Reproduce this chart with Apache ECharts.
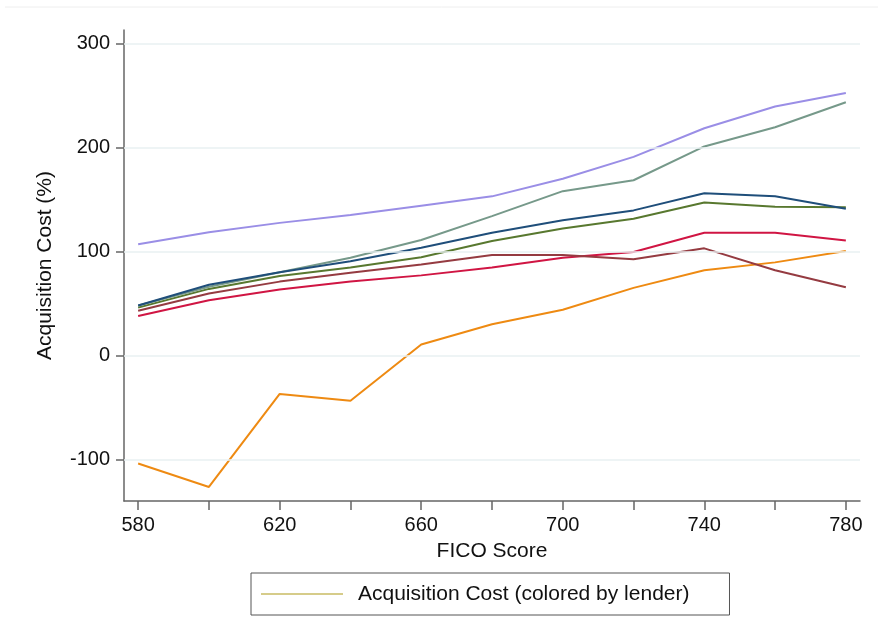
<!DOCTYPE html>
<html>
<head>
<meta charset="utf-8">
<script src="https://cdn.jsdelivr.net/npm/echarts@6/dist/echarts.min.js"></script>
<style>
html,body{margin:0;padding:0;background:#fff;}
#chart{width:878px;height:641px;}
</style>
</head>
<body>
<div id="chart"></div>
<script>
const fico = [580, 600, 620, 640, 660, 680, 700, 720, 740, 760, 780];
const xTickValues = [580, 600, 620, 640, 660, 680, 700, 720, 740, 760, 780];
const xLabelValues = [580, 620, 660, 700, 740, 780];
const yTickValues = [-100, 0, 100, 200, 300];

const lenderLavender = [107, 118.5, 127.5, 135, 144, 153, 170, 191, 218.5, 239.5, 252.5];
const lenderGrayGreen = [48, 66, 80, 94, 111, 134, 158, 168.5, 201, 219.5, 243.5];
const lenderNavy = [48, 68, 80, 90.5, 103.5, 118, 130, 139.5, 156, 153, 141];
const lenderGreen = [46, 64, 76.5, 84.5, 94.5, 110, 122, 131.5, 147, 143, 142.5];
const lenderMaroon = [43, 59.5, 71, 79.5, 87.5, 96.5, 96.5, 92.5, 103, 82, 65.5];
const lenderCrimson = [38, 53, 63.5, 71, 77, 84.5, 94, 99.5, 118, 118, 110.5];
const lenderOrange = [-104, -126.5, -37, -43.5, 10.5, 30, 44, 65, 82, 89.5, 100.5];

const lenderSeries = [
  {name: 'Lender A', values: lenderOrange, color: '#ee8a12'},
  {name: 'Lender B', values: lenderCrimson, color: '#d01543'},
  {name: 'Lender C', values: lenderMaroon, color: '#953b41'},
  {name: 'Lender D', values: lenderGreen, color: '#58782f'},
  {name: 'Lender E', values: lenderGrayGreen, color: '#76998a'},
  {name: 'Lender F', values: lenderNavy, color: '#1f4e7a'},
  {name: 'Lender G', values: lenderLavender, color: '#9a8ee6'}
];
const legendName = 'Acquisition Cost (colored by lender)';

const chart = echarts.init(document.getElementById('chart'), null, {renderer: 'canvas'});
const font = "'Liberation Sans', Arial, sans-serif";

const series = lenderSeries.map(s => ({
  name: s.name,
  type: 'line',
  data: fico.map((f, i) => [f, s.values[i]]),
  symbol: 'none',
  lineStyle: {color: s.color, width: 2},
  itemStyle: {color: s.color},
  animation: false,
  z: 3
}));
series.push({
  name: legendName,
  type: 'line',
  data: [],
  symbol: 'none',
  lineStyle: {color: '#d6cc8a', width: 2},
  itemStyle: {color: '#d6cc8a'}
});

chart.setOption({
  animation: false,
  backgroundColor: '#fff',
  textStyle: {fontFamily: font},
  grid: {left: 124, right: 18, top: 30, bottom: 140, containLabel: false},
  legend: {
    data: [legendName],
    left: 251,
    top: 573,
    icon: 'rect',
    itemWidth: 82,
    itemHeight: 2,
    padding: [10, 40, 10, 10],
    borderColor: '#555',
    borderWidth: 1,
    selectedMode: false,
    textStyle: {fontSize: 21, color: '#111', fontFamily: font, padding: [0, 0, 0, 10], lineHeight: 22}
  },
  xAxis: {
    type: 'value',
    min: 576,
    max: 784,
    name: 'FICO Score',
    nameLocation: 'middle',
    nameGap: 40,
    nameTextStyle: {fontSize: 21, color: '#111', fontFamily: font},
    axisLine: {show: true, onZero: false, lineStyle: {color: '#666', width: 1.5}},
    axisTick: {show: true, customValues: xTickValues, length: 9, lineStyle: {color: '#666', width: 1.5}},
    axisLabel: {customValues: xLabelValues, fontSize: 20, color: '#111', margin: 14, fontFamily: font},
    splitLine: {show: false}
  },
  yAxis: {
    type: 'value',
    min: -140,
    max: 313,
    name: 'Acquisition Cost (%)',
    nameLocation: 'middle',
    nameGap: 68,
    nameTextStyle: {fontSize: 21, color: '#111', fontFamily: font},
    axisLine: {show: true, onZero: false, lineStyle: {color: '#666', width: 1.5}},
    axisTick: {show: true, customValues: yTickValues, length: 8, lineStyle: {color: '#666', width: 1.5}},
    axisLabel: {customValues: yTickValues, fontSize: 20, color: '#111', margin: 14, fontFamily: font},
    splitLine: {show: false}
  },
  graphic: [
    {type: 'line', shape: {x1: 5, y1: 7, x2: 878, y2: 7}, style: {stroke: '#eeeeee', lineWidth: 1}, silent: true}
  ],
  series: series.concat([{
    type: 'line',
    data: [],
    markLine: {
      silent: true,
      symbol: 'none',
      label: {show: false},
      lineStyle: {color: '#e8f0f2', width: 1.5, type: 'solid'},
      data: yTickValues.map(v => ({yAxis: v}))
    },
    z: 1
  }])
});
</script>
</body>
</html>
